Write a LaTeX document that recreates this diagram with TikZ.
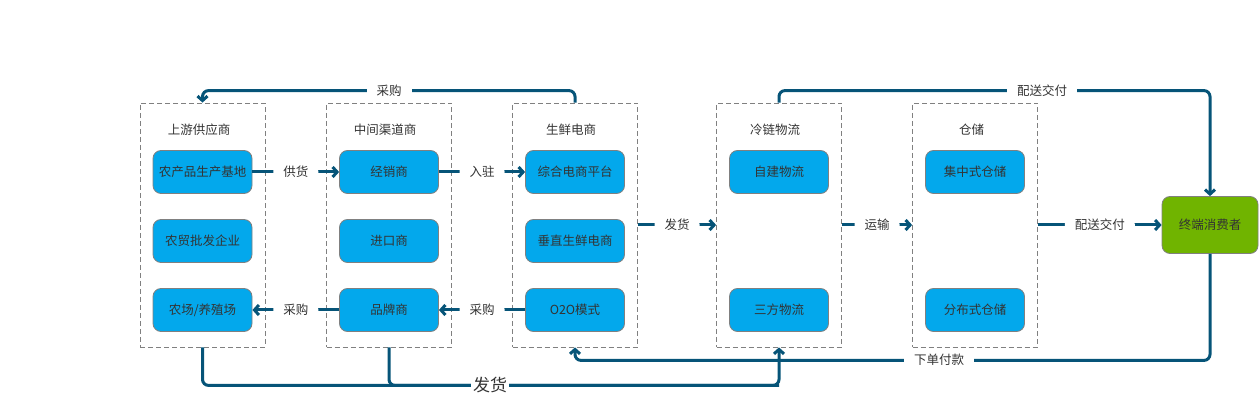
\documentclass[tikz,border=0pt]{standalone}
\usepackage{fontspec}
\setmainfont{Noto Sans CJK SC}
\usetikzlibrary{arrows.meta}
\definecolor{flowblue}{RGB}{6,84,120}
\definecolor{boxblue}{RGB}{3,168,236}
\definecolor{endgreen}{RGB}{112,180,0}
\definecolor{txtgray}{RGB}{51,51,51}
\begin{document}
\begin{tikzpicture}[x=1pt,y=-1pt,
  grp/.style={draw=black!50, dash pattern=on 5pt off 3pt, line width=0.8pt, minimum width=125pt, minimum height=244pt, inner sep=0pt},
  ttl/.style={text=txtgray, font=\fontsize{12.5}{15}\selectfont},
  itm/.style={draw=black!50, line width=0.8pt, fill=boxblue, rounded corners=8pt, minimum width=99pt, minimum height=43pt, inner sep=0pt, text=txtgray, font=\fontsize{12.5}{15}\selectfont},
  lbl/.style={fill=white, inner xsep=10pt, inner ysep=1pt, text=txtgray, font=\fontsize{12.5}{15}\selectfont},
  line/.style={draw=flowblue, line width=3pt, rounded corners=6pt},
  flow/.style={line, -{Straight Barb[length=4.5pt,width=10pt]}}]
\useasboundingbox (0,0) rectangle (1259,403);
% groups
\node[grp] (grp1) at (202.5,225){};
\node[grp] (grp2) at (389,225){};
\node[grp] (grp3) at (575,225){};
\node[grp] (grp4) at (779,225){};
\node[grp] (grp5) at (975,225){};
\node[ttl] (ttl1) at (199,130){上游供应商};
\node[ttl] (ttl2) at (385,130){中间渠道商};
\node[ttl] (ttl3) at (571,130){生鲜电商};
\node[ttl] (ttl4) at (775,130){冷链物流};
\node[ttl] (ttl5) at (971.5,130){仓储};
% boxes
\node[itm] (sup1) at (202.5,172){农产品生产基地};
\node[itm] (sup2) at (202.5,241){农贸批发企业};
\node[itm] (sup3) at (202.5,310){农场/养殖场};
\node[itm] (mid1) at (389,172){经销商};
\node[itm] (mid2) at (389,241){进口商};
\node[itm] (mid3) at (389,310){品牌商};
\node[itm] (ecm1) at (575,172){综合电商平台};
\node[itm] (ecm2) at (575,241){垂直生鲜电商};
\node[itm] (ecm3) at (575,310){O2O模式};
\node[itm] (cld1) at (779,172){自建物流};
\node[itm] (cld3) at (779,310){三方物流};
\node[itm] (wh1) at (975,172){集中式仓储};
\node[itm] (wh3) at (975,310){分布式仓储};
\node[itm, fill=endgreen, minimum width=96pt, minimum height=57pt] (cons) at (1210,225){终端消费者};
% flows
\draw[flow] (sup1) -- node[lbl]{供货} (mid1);
\draw[flow] (mid1) -- node[lbl]{入驻} (ecm1);
\draw[flow] (mid3) -- node[lbl]{采购} (sup3);
\draw[flow] (ecm3) -- node[lbl]{采购} (mid3);
\draw[flow] (grp3) -- node[lbl]{发货} (grp4);
\draw[flow] (grp4) -- node[lbl]{运输} (grp5);
\draw[flow] (grp5) -- node[lbl]{配送交付} (cons);
\draw[flow] (grp3.north) -- ++(0,-12) -| (grp1.north);
\node[lbl] (buy0) at (389,91){采购};
\draw[flow] (grp4.north) -- ++(0,-12) -| (cons.north);
\node[lbl] (dlv0) at (1042,91){配送交付};
\draw[flow] (cons.south) |- ([yshift=-13pt]grp3.south) -- (grp3.south);
\node[lbl] (pay0) at (939,360){下单付款};
\coordinate (ship) at ([yshift=-38pt]grp4.south);
\draw[flow] (grp1.south) |- (ship) -- (grp4.south);
\draw[line] (grp2.south) |- (ship);
\node[lbl, inner xsep=2pt, font=\fontsize{17}{20}\selectfont] (shp0) at (490,385){发货};
\end{tikzpicture}
\end{document}
